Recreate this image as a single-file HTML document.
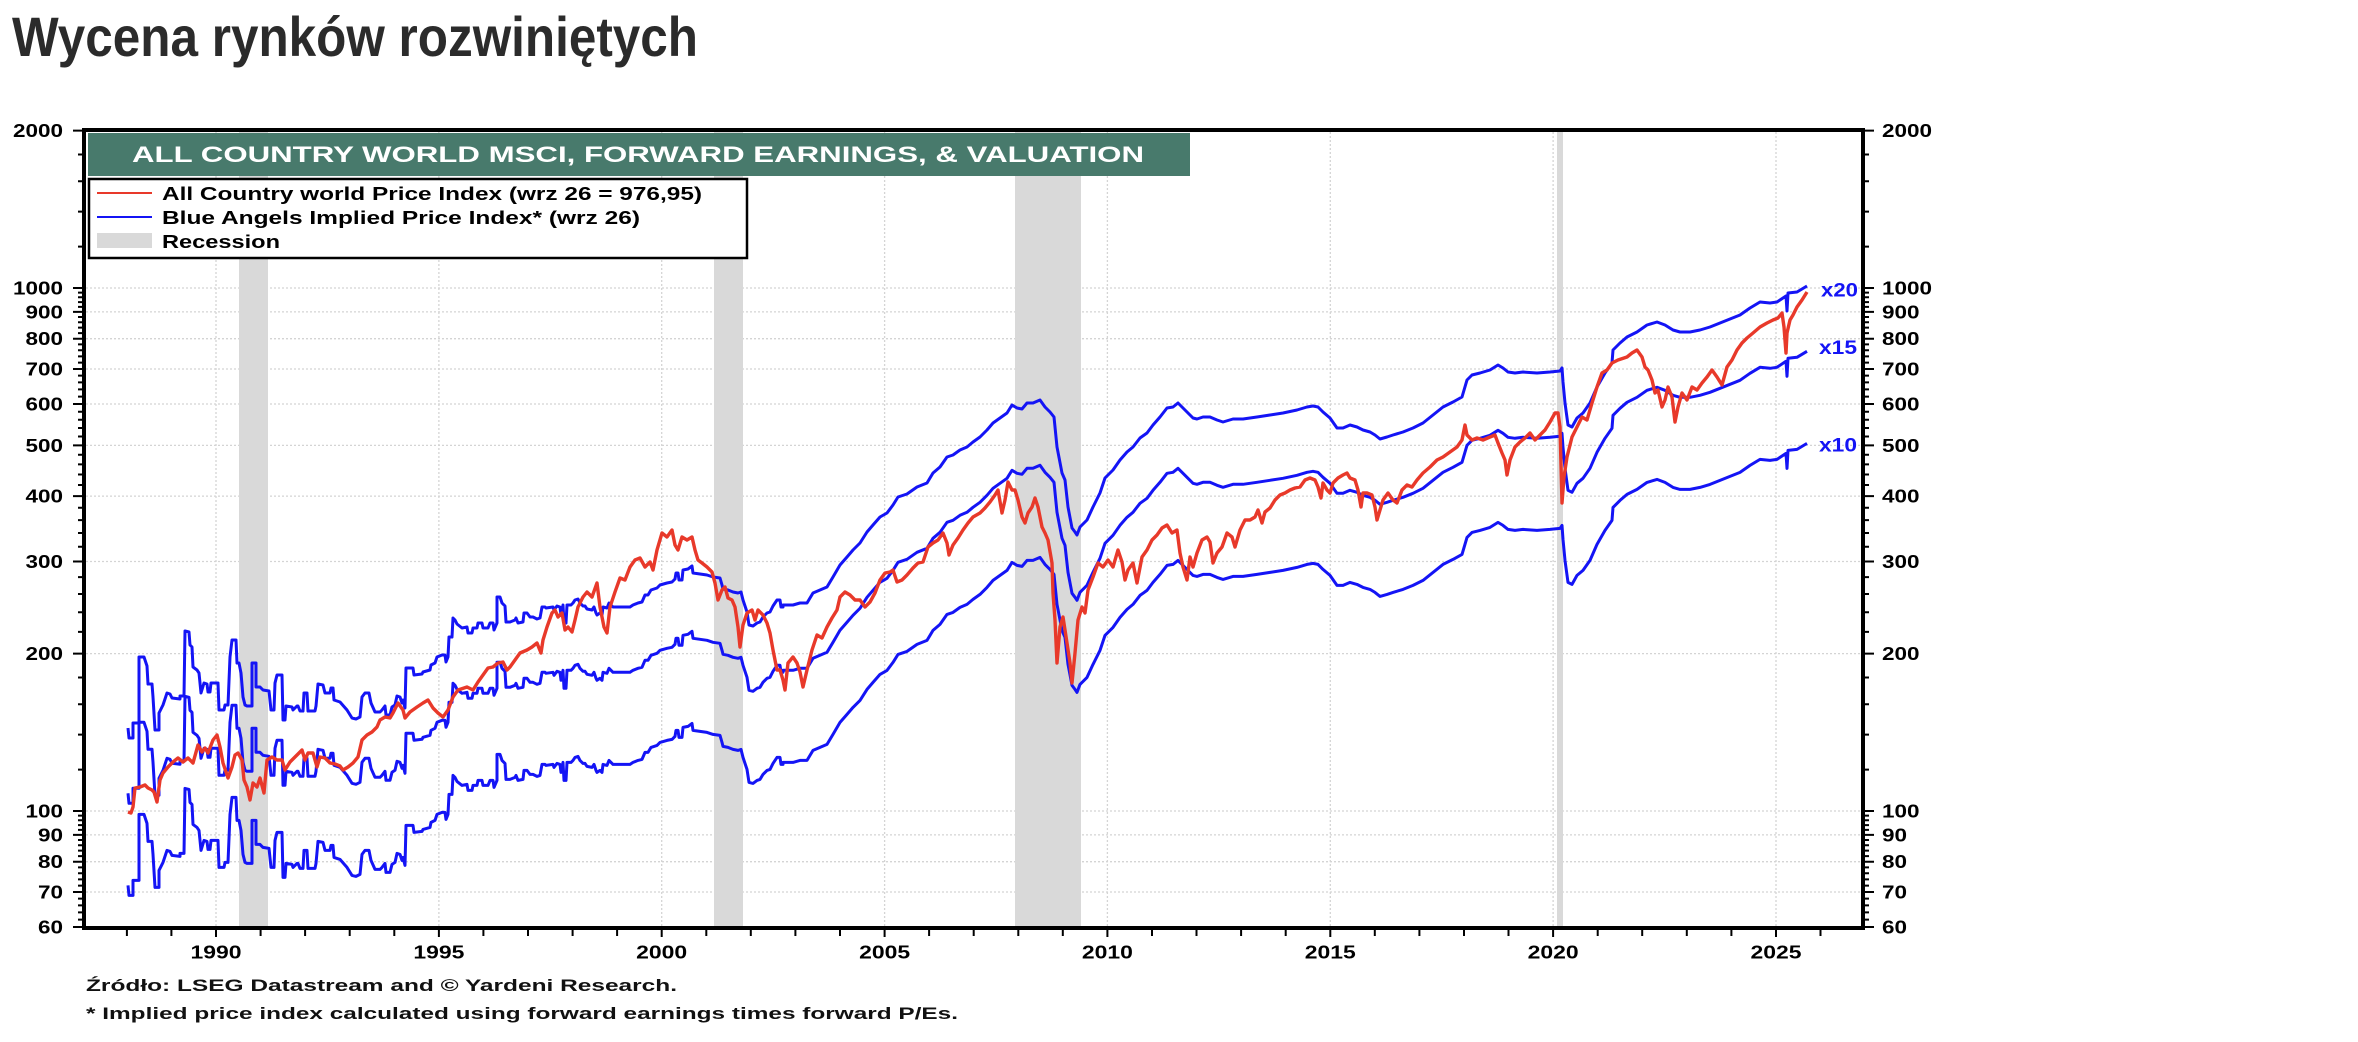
<!DOCTYPE html>
<html>
<head>
<meta charset="utf-8">
<style>
html,body{margin:0;padding:0;background:#fff;}
svg{display:block;}
text{font-family:"Liberation Sans",Arial,sans-serif;}
</style>
</head>
<body>
<svg width="2358" height="1042" viewBox="0 0 2358 1042" xmlns="http://www.w3.org/2000/svg">
<defs>
<polyline id="blue" fill="none" stroke="#1414f5" stroke-width="3" stroke-linejoin="round" points="128,728 129,738 133,738 133,723 139,723 139,657 144,657 147,666 148,684 152,684 153,697 155,730 159,730 159,713 163,705 167,693 170,694 172,698 180,699 180,696 184,696 185,631 189,632 190,645 192,647 193,667 197,670 199,673 201,693 204,683 207,684 208,692 210,692 211,683 218,683 219,710 224,710 225,705 228,705 230,657 232,640 236,640 237,663 239,663 241,673 243,697 245,705 247,706 252,706 252,663 256,663 256,687 260,687 263,690 269,691 271,710 274,710 275,683 277,675 282,675 283,720 285,720 286,706 292,707 293,710 297,706 298,706 300,711 303,711 304,693 307,693 308,711 315,711 316,706 318,684 323,685 325,693 330,693 331,688 333,688 334,700 340,702 347,710 352,718 356,719 360,717 362,697 365,693 369,693 371,703 375,712 380,712 382,710 385,706 386,715 390,715 392,707 395,705 397,696 400,697 402,703 403,700 405,708 406,668 413,668 414,675 422,674 423,672 430,670 431,665 435,663 437,657 442,655 445,655 446,662 448,657 449,637 452,637 453,618 455,620 457,624 462,628 467,627 468,633 472,633 473,628 477,628 478,623 482,623 483,628 488,628 490,623 493,623 494,630 497,623 497,597 500,597 502,603 505,606 506,622 510,622 515,620 516,618 518,623 523,622 524,613 527,613 530,617 533,617 537,619 540,618 542,607 545,607 546,608 553,607 554,610 557,606 560,607 561,615 563,605 564,623 566,623 567,605 571,605 573,603 575,600 578,599 580,603 583,606 585,606 587,609 592,610 594,607 596,613 597,615 600,613 602,615 603,607 607,608 609,603 613,607 630,607 633,605 638,603 642,602 645,595 648,595 651,590 657,588 660,585 667,583 672,582 675,579 676,573 678,573 679,580 682,580 683,570 688,569 692,566 693,573 700,574 707,575 713,577 720,578 722,585 723,589 728,590 733,592 738,593 741,592 743,600 747,612 749,625 753,626 757,623 760,622 763,617 767,613 770,612 773,606 777,600 780,600 781,607 783,607 783,605 793,605 800,603 807,603 813,593 820,590 827,587 833,577 840,565 847,557 853,550 860,543 867,532 873,525 880,517 887,513 893,505 898,497 907,494 917,487 927,483 933,473 940,467 947,457 953,455 960,450 967,447 973,442 980,437 987,430 993,423 1000,418 1007,413 1012,405 1017,408 1022,409 1027,403 1033,403 1040,400 1045,407 1050,412 1054,417 1057,447 1062,473 1065,480 1068,507 1072,528 1075,532 1077,535 1080,527 1087,520 1093,507 1100,493 1105,478 1113,470 1120,460 1127,452 1133,447 1140,438 1147,433 1153,425 1160,417 1167,408 1173,407 1178,403 1187,412 1193,418 1197,419 1203,417 1210,417 1217,420 1223,422 1233,419 1243,419 1257,417 1270,415 1283,413 1297,410 1307,407 1313,406 1318,407 1323,412 1330,418 1337,428 1343,428 1350,425 1357,427 1363,430 1370,432 1375,435 1380,439 1387,437 1393,435 1403,432 1413,428 1423,423 1433,415 1443,407 1453,402 1462,397 1467,380 1472,375 1480,373 1490,370 1498,365 1503,368 1508,372 1515,373 1523,372 1537,373 1550,372 1560,371 1562,368 1563,382 1565,403 1568,425 1572,427 1577,418 1583,413 1590,403 1597,387 1605,373 1612,363 1613,350 1620,343 1627,337 1637,332 1647,325 1657,322 1665,325 1673,330 1680,332 1690,332 1700,330 1710,327 1720,323 1730,319 1740,315 1750,308 1760,302 1770,303 1777,302 1786,296 1787,311 1788,293 1797,292 1807,286"/>
<path id="lticks" fill="none" stroke="#000" stroke-width="2" d="M73 130.6H84M73 288H84M73 311.9H84M73 338.7H84M73 369H84M73 404H84M73 445.4H84M73 496.1H84M73 561.5H84M73 653.6H84M73 811H84M73 834.9H84M73 861.7H84M73 892H84M73 927H84
M78 919.6H84M78 912.4H84M78 905.4H84M78 898.6H84M78 885.6H84M78 879.4H84M78 873.3H84M78 867.4H84M78 856.1H84M78 850.6H84M78 845.3H84M78 840H84M78 829.9H84M78 825.1H84M78 820.3H84M78 815.6H84
M78 769.6H84M78 734.6H84M78 704.2H84M78 677.5H84M78 631.9H84M78 612.2H84M78 594H84M78 577.1H84M78 546.8H84M78 533H84M78 520.1H84M78 507.8H84M78 485H84M78 474.5H84M78 464.4H84M78 454.7H84M78 436.5H84M78 428H84M78 419.7H84M78 411.7H84M78 396.6H84M78 389.4H84M78 382.4H84M78 375.6H84M78 362.6H84M78 356.4H84M78 350.3H84M78 344.4H84M78 333.1H84M78 327.6H84M78 322.3H84M78 317H84M78 306.9H84M78 302.1H84M78 297.3H84M78 292.6H84M78 246.6H84M78 211.6H84M78 181.2H84M78 154.5H84"/>
</defs>

<!-- Page title -->
<text x="12" y="56" font-size="56" font-weight="bold" fill="#2b2b2b" textLength="686" lengthAdjust="spacingAndGlyphs">Wycena rynków rozwiniętych</text>

<!-- Grid -->
<g stroke="#d4d4d4" stroke-width="1.3" stroke-dasharray="2 2" fill="none">
<path d="M86 288H1861M86 311.9H1861M86 338.7H1861M86 369H1861M86 404H1861M86 445.4H1861M86 496.1H1861M86 561.5H1861M86 653.6H1861M86 811H1861M86 834.9H1861M86 861.7H1861M86 892H1861"/>
<path d="M216 132V926M438.9 132V926M661.7 132V926M884.6 132V926M1107.4 132V926M1330.3 132V926M1553.1 132V926M1776 132V926"/>
</g>

<!-- Recessions -->
<g fill="#d9d9d9">
<rect x="239" y="131" width="29" height="796"/>
<rect x="714" y="131" width="29" height="796"/>
<rect x="1015" y="131" width="66" height="796"/>
<rect x="1557" y="131" width="6" height="796"/>
</g>

<!-- Title box -->
<rect x="88" y="133" width="1102" height="43" fill="#487a6c"/>
<text x="132" y="162" font-size="22" font-weight="bold" fill="#ffffff" textLength="1012" lengthAdjust="spacingAndGlyphs">ALL COUNTRY WORLD MSCI, FORWARD EARNINGS, &amp; VALUATION</text>

<!-- Legend -->
<rect x="89" y="179" width="658" height="79" fill="#fff" stroke="#000" stroke-width="2.5"/>
<line x1="97" y1="193" x2="152" y2="193" stroke="#e8392a" stroke-width="2"/>
<line x1="97" y1="217" x2="152" y2="217" stroke="#1414f5" stroke-width="2"/>
<rect x="97" y="233" width="55" height="15" fill="#d9d9d9"/>
<g font-size="18.5" font-weight="bold" fill="#000">
<text x="162" y="200" textLength="540" lengthAdjust="spacingAndGlyphs">All Country world Price Index (wrz 26 = 976,95)</text>
<text x="162" y="224" textLength="478" lengthAdjust="spacingAndGlyphs">Blue Angels Implied Price Index* (wrz 26)</text>
<text x="162" y="248" textLength="118" lengthAdjust="spacingAndGlyphs">Recession</text>
</g>

<!-- Blue series x20, x15, x10 -->
<use href="#blue"/>
<use href="#blue" y="65.3"/>
<use href="#blue" y="157.4"/>

<!-- Red series -->
<polyline fill="none" stroke="#e8392a" stroke-width="3.4" stroke-linejoin="round" points="128,812 131,813 133,807 135,788 140,787 145,785 148,788 152,790 154,792 157,802 160,780 163,773 168,767 173,762 178,758 183,762 188,758 193,763 198,745 202,752 205,748 208,753 213,740 217,735 220,747 223,763 228,778 232,767 235,755 238,753 242,760 244,780 247,787 250,800 253,783 257,787 260,778 264,793 267,760 272,757 277,760 282,760 285,770 290,762 297,755 302,750 305,760 308,753 313,753 317,767 320,757 325,758 330,763 335,764 340,766 343,770 348,767 353,763 358,757 362,740 367,735 372,732 377,727 380,720 385,717 390,718 393,713 398,703 403,710 405,718 410,712 417,707 423,703 428,700 433,708 438,713 443,717 448,710 453,697 458,690 467,687 473,690 478,682 483,675 488,668 493,667 498,663 503,662 507,670 510,667 515,660 520,653 527,650 532,647 537,643 541,653 543,640 547,627 552,613 555,610 558,617 562,613 565,630 568,627 572,632 575,620 578,607 583,597 587,592 592,597 597,583 600,607 604,627 607,633 610,607 615,592 620,578 625,580 630,567 635,560 640,558 645,567 650,562 653,570 657,550 662,533 667,537 672,530 675,545 678,550 682,537 687,540 692,537 695,550 698,560 702,563 707,567 712,572 715,583 718,600 722,590 725,587 728,598 732,600 735,607 738,627 740,647 743,625 747,613 752,610 755,620 758,610 763,615 767,623 770,633 773,650 777,670 780,670 783,680 785,690 788,663 793,657 797,663 800,672 803,687 807,670 812,650 817,635 822,638 827,627 832,618 837,610 840,597 845,592 850,595 855,600 860,600 865,607 870,602 875,593 880,580 885,573 890,572 893,570 897,582 902,580 907,575 913,568 918,563 923,562 928,547 933,543 938,540 943,533 947,543 949,555 953,545 958,538 963,530 968,523 973,517 980,513 985,508 990,502 995,495 998,490 1002,513 1005,500 1008,482 1012,490 1015,490 1018,500 1022,517 1025,523 1028,513 1032,507 1035,498 1038,507 1042,527 1045,533 1048,540 1052,563 1053,593 1055,620 1057,663 1060,627 1063,617 1067,643 1070,663 1072,683 1075,653 1078,620 1082,607 1085,613 1088,590 1093,577 1098,563 1103,567 1108,560 1113,567 1118,550 1122,562 1125,580 1128,570 1133,563 1137,583 1142,557 1147,550 1152,540 1157,535 1162,528 1167,525 1172,533 1177,530 1180,553 1183,567 1187,580 1190,557 1193,567 1197,553 1202,540 1207,537 1210,542 1213,563 1217,553 1222,547 1227,533 1232,537 1235,547 1240,530 1245,520 1250,520 1255,517 1258,510 1262,523 1265,512 1270,508 1275,500 1280,495 1285,493 1290,490 1295,488 1300,487 1305,480 1310,478 1315,480 1318,487 1321,498 1323,483 1327,490 1330,493 1333,483 1338,478 1343,475 1347,473 1350,478 1355,480 1358,490 1361,507 1363,493 1367,493 1372,495 1375,507 1377,520 1380,510 1383,500 1388,493 1393,500 1397,503 1402,490 1407,485 1412,487 1417,480 1423,473 1430,467 1437,460 1443,457 1450,452 1457,447 1462,440 1465,425 1467,435 1472,440 1477,438 1483,440 1490,437 1495,435 1498,443 1502,453 1505,460 1507,475 1510,460 1515,447 1520,442 1525,438 1530,433 1535,440 1540,435 1545,430 1550,422 1555,413 1558,413 1560,427 1562,503 1564,477 1567,457 1572,437 1577,427 1582,417 1587,420 1592,403 1597,387 1602,373 1607,370 1612,363 1618,360 1627,357 1632,353 1637,350 1642,357 1645,367 1648,370 1652,380 1655,393 1658,390 1662,407 1665,400 1668,387 1672,397 1675,422 1678,407 1682,393 1687,400 1692,387 1697,390 1702,383 1707,377 1712,370 1717,377 1722,385 1727,367 1732,360 1737,350 1742,343 1747,338 1753,333 1760,327 1767,323 1773,320 1778,318 1782,313 1784,327 1786,353 1787,333 1790,320 1793,315 1797,307 1802,300 1807,292"/>

<!-- Multiplier labels -->
<g font-size="19" font-weight="bold" fill="#1414f5">
<text x="1821" y="296.5" textLength="37" lengthAdjust="spacingAndGlyphs">x20</text>
<text x="1819" y="354" textLength="38" lengthAdjust="spacingAndGlyphs">x15</text>
<text x="1819" y="451.5" textLength="38" lengthAdjust="spacingAndGlyphs">x10</text>
</g>

<!-- Frame -->
<rect x="84" y="130" width="1779" height="798" fill="none" stroke="#000" stroke-width="4"/>

<!-- Y ticks -->
<use href="#lticks"/>
<use href="#lticks" transform="matrix(-1,0,0,1,1947,0)"/>

<!-- X ticks -->
<path fill="none" stroke="#000" stroke-width="2" d="M126.9 930V936M171.4 930V936M216 930V937M260.6 930V936M305.1 930V936M349.7 930V936M394.3 930V936M438.9 930V937M483.4 930V936M528 930V936M572.6 930V936M617.1 930V936M661.7 930V937M706.3 930V936M750.8 930V936M795.4 930V936M840 930V936M884.6 930V937M929.1 930V936M973.7 930V936M1018.3 930V936M1062.8 930V936M1107.4 930V937M1152 930V936M1196.5 930V936M1241.1 930V936M1285.7 930V936M1330.3 930V937M1374.8 930V936M1419.4 930V936M1464 930V936M1508.5 930V936M1553.1 930V937M1597.7 930V936M1642.2 930V936M1686.8 930V936M1731.4 930V936M1776 930V937M1820.5 930V936"/>

<!-- Left labels -->
<g font-size="18.5" font-weight="bold" fill="#000" text-anchor="end">
<text x="63" y="137" textLength="50" lengthAdjust="spacingAndGlyphs">2000</text>
<text x="63" y="294.5" textLength="50" lengthAdjust="spacingAndGlyphs">1000</text>
<text x="63" y="318.4" textLength="37.5" lengthAdjust="spacingAndGlyphs">900</text>
<text x="63" y="345.2" textLength="37.5" lengthAdjust="spacingAndGlyphs">800</text>
<text x="63" y="375.5" textLength="37.5" lengthAdjust="spacingAndGlyphs">700</text>
<text x="63" y="410.5" textLength="37.5" lengthAdjust="spacingAndGlyphs">600</text>
<text x="63" y="451.9" textLength="37.5" lengthAdjust="spacingAndGlyphs">500</text>
<text x="63" y="502.6" textLength="37.5" lengthAdjust="spacingAndGlyphs">400</text>
<text x="63" y="568" textLength="37.5" lengthAdjust="spacingAndGlyphs">300</text>
<text x="63" y="660.1" textLength="37.5" lengthAdjust="spacingAndGlyphs">200</text>
<text x="63" y="817.5" textLength="37.5" lengthAdjust="spacingAndGlyphs">100</text>
<text x="63" y="841.4" textLength="25" lengthAdjust="spacingAndGlyphs">90</text>
<text x="63" y="868.2" textLength="25" lengthAdjust="spacingAndGlyphs">80</text>
<text x="63" y="898.5" textLength="25" lengthAdjust="spacingAndGlyphs">70</text>
<text x="63" y="933.5" textLength="25" lengthAdjust="spacingAndGlyphs">60</text>
</g>

<!-- Right labels -->
<g font-size="18.5" font-weight="bold" fill="#000">
<text x="1882" y="137" textLength="50" lengthAdjust="spacingAndGlyphs">2000</text>
<text x="1882" y="294.5" textLength="50" lengthAdjust="spacingAndGlyphs">1000</text>
<text x="1882" y="318.4" textLength="37.5" lengthAdjust="spacingAndGlyphs">900</text>
<text x="1882" y="345.2" textLength="37.5" lengthAdjust="spacingAndGlyphs">800</text>
<text x="1882" y="375.5" textLength="37.5" lengthAdjust="spacingAndGlyphs">700</text>
<text x="1882" y="410.5" textLength="37.5" lengthAdjust="spacingAndGlyphs">600</text>
<text x="1882" y="451.9" textLength="37.5" lengthAdjust="spacingAndGlyphs">500</text>
<text x="1882" y="502.6" textLength="37.5" lengthAdjust="spacingAndGlyphs">400</text>
<text x="1882" y="568" textLength="37.5" lengthAdjust="spacingAndGlyphs">300</text>
<text x="1882" y="660.1" textLength="37.5" lengthAdjust="spacingAndGlyphs">200</text>
<text x="1882" y="817.5" textLength="37.5" lengthAdjust="spacingAndGlyphs">100</text>
<text x="1882" y="841.4" textLength="25" lengthAdjust="spacingAndGlyphs">90</text>
<text x="1882" y="868.2" textLength="25" lengthAdjust="spacingAndGlyphs">80</text>
<text x="1882" y="898.5" textLength="25" lengthAdjust="spacingAndGlyphs">70</text>
<text x="1882" y="933.5" textLength="25" lengthAdjust="spacingAndGlyphs">60</text>
</g>

<!-- X labels -->
<g font-size="18.5" font-weight="bold" fill="#000" text-anchor="middle">
<text x="216" y="958.5" textLength="51" lengthAdjust="spacingAndGlyphs">1990</text>
<text x="438.9" y="958.5" textLength="51" lengthAdjust="spacingAndGlyphs">1995</text>
<text x="661.7" y="958.5" textLength="51" lengthAdjust="spacingAndGlyphs">2000</text>
<text x="884.6" y="958.5" textLength="51" lengthAdjust="spacingAndGlyphs">2005</text>
<text x="1107.4" y="958.5" textLength="51" lengthAdjust="spacingAndGlyphs">2010</text>
<text x="1330.3" y="958.5" textLength="51" lengthAdjust="spacingAndGlyphs">2015</text>
<text x="1553.1" y="958.5" textLength="51" lengthAdjust="spacingAndGlyphs">2020</text>
<text x="1776" y="958.5" textLength="51" lengthAdjust="spacingAndGlyphs">2025</text>
</g>

<!-- Footnotes -->
<g font-size="16.5" font-weight="bold" fill="#111">
<text x="86" y="991" textLength="591" lengthAdjust="spacingAndGlyphs">Źródło: LSEG Datastream and © Yardeni Research.</text>
<text x="86" y="1019" textLength="872" lengthAdjust="spacingAndGlyphs">* Implied price index calculated using forward earnings times forward P/Es.</text>
</g>
</svg>
</body>
</html>
